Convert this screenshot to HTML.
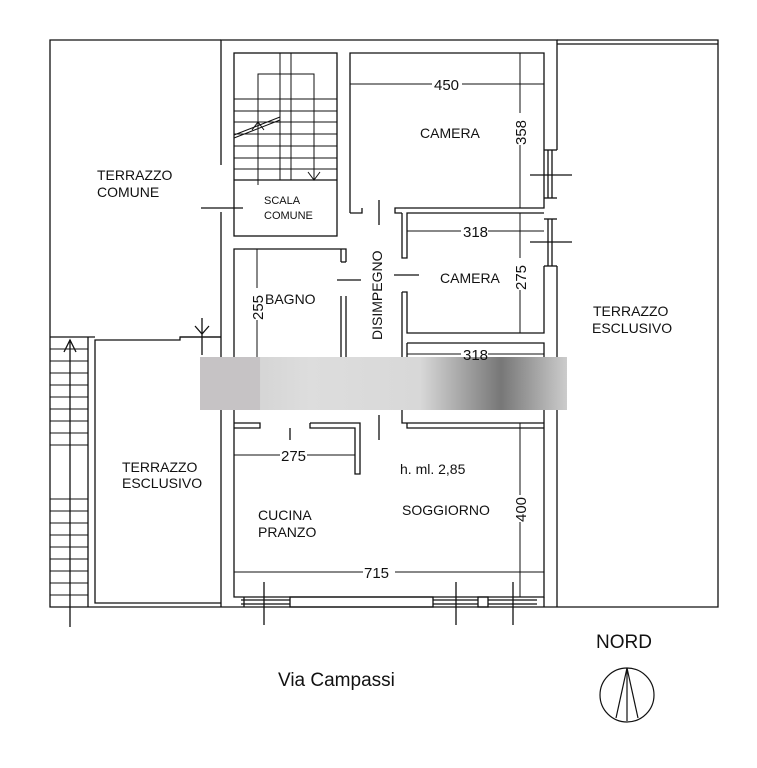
<!DOCTYPE html>
<html><head><meta charset="utf-8"><style>
html,body{margin:0;padding:0;background:#fff}
svg{display:block}
text{font-family:"Liberation Sans",sans-serif;fill:#111}
</style></head><body>
<svg width="757" height="768" viewBox="0 0 757 768" xmlns="http://www.w3.org/2000/svg">
<defs>
<linearGradient id="blur" x1="0" x2="1" y1="0" y2="0">
<stop offset="0" stop-color="#ccc"/><stop offset="0.3" stop-color="#ddd"/><stop offset="0.6" stop-color="#d8d8d8"/><stop offset="0.82" stop-color="#777"/><stop offset="1" stop-color="#ccc"/>
</linearGradient>
</defs>
<g fill="none" stroke="#111" stroke-width="1.3">
<!-- left terrace -->
<polyline points="221,40 50,40 50,607 221,607"/>
<!-- right terrace -->
<polyline points="557,40 718,40 718,607 557,607"/>
<line x1="557" y1="44" x2="718" y2="44"/>
<!-- building outer -->
<polyline points="221,165 221,40 557,40 557,150"/>
<line x1="557" y1="266" x2="557" y2="607"/>
<line x1="221" y1="212" x2="221" y2="607"/>
<line x1="221" y1="607" x2="557" y2="607"/>
<!-- stair box -->
<rect x="234" y="53" width="103" height="183"/>
<line x1="234" y1="180" x2="337" y2="180"/>
<g stroke-width="1">
<line x1="234" y1="99" x2="337" y2="99"/><line x1="234" y1="111" x2="337" y2="111"/>
<line x1="234" y1="122" x2="337" y2="122"/><line x1="234" y1="134" x2="337" y2="134"/>
<line x1="234" y1="146" x2="337" y2="146"/><line x1="234" y1="158" x2="337" y2="158"/>
<line x1="234" y1="169" x2="337" y2="169"/>
<rect x="280" y="53" width="11" height="127"/>
<polyline points="258,185 258,74 314,74 314,180"/>
<polyline points="308,172 314,180 320,172"/>
<polyline points="252,130 258,122 264,130"/>
<line x1="234" y1="135" x2="280" y2="117"/><line x1="234" y1="138" x2="280" y2="120"/>
</g>
<line x1="201" y1="208" x2="243" y2="208"/>
<!-- camera 1 -->
<polyline points="350,213 350,53 544,53 544,208 395,208 395,213 402,213"/>
<polyline points="350,213 362,213 362,208"/>
<line x1="544" y1="150" x2="557" y2="150"/><line x1="544" y1="198" x2="557" y2="198"/>
<line x1="548" y1="150" x2="548" y2="198"/><line x1="552" y1="150" x2="552" y2="198"/>
<line x1="544" y1="219" x2="557" y2="219"/><line x1="544" y1="266" x2="557" y2="266"/>
<line x1="548" y1="219" x2="548" y2="266"/><line x1="552" y1="219" x2="552" y2="266"/>
<line x1="530" y1="175" x2="572" y2="175"/><line x1="530" y1="242" x2="572" y2="242"/>
<!-- camera 2 -->
<polyline points="402,213 402,258 407,258 407,213 544,213"/>
<polyline points="402,292 407,292 407,333 544,333 544,266"/>
<line x1="402" y1="292" x2="402" y2="357"/>
<polyline points="407,343 544,343 544,357"/>
<polyline points="407,343 407,357"/>
<!-- bagno -->
<polyline points="346,262 346,249 234,249 234,357"/>
<line x1="341" y1="262" x2="346" y2="262"/><line x1="341" y1="249" x2="341" y2="262"/>
<line x1="346" y1="296" x2="346" y2="357"/><line x1="341" y1="296" x2="341" y2="357"/>
<!-- corridor marks -->
<line x1="379" y1="200" x2="379" y2="225"/>
<line x1="337" y1="280" x2="361" y2="280"/><line x1="394" y1="275" x2="419" y2="275"/>
<line x1="379" y1="415" x2="379" y2="440"/>
<!-- living -->
<polyline points="234,410 234,597 544,597 544,410"/>
<polyline points="234,423 260,423 260,428 234,428"/>
<polyline points="290,428 290,440"/>
<polyline points="310,423 360,423 360,474 355,474 355,428 310,428 310,423"/>
<polyline points="402,410 402,423 544,423"/>
<polyline points="407,423 407,428 544,428"/>
<!-- bottom windows -->
<line x1="244" y1="597" x2="244" y2="607"/><line x1="544" y1="597" x2="544" y2="607"/>
<line x1="241" y1="600" x2="290" y2="600"/><line x1="241" y1="604" x2="290" y2="604"/>
<rect x="290" y="597" width="143" height="10"/>
<line x1="433" y1="600" x2="478" y2="600"/><line x1="433" y1="604" x2="478" y2="604"/>
<rect x="478" y="597" width="10" height="10"/>
<line x1="488" y1="600" x2="537" y2="600"/><line x1="488" y1="604" x2="537" y2="604"/>
<line x1="264" y1="582" x2="264" y2="625"/><line x1="456" y1="582" x2="456" y2="625"/><line x1="513" y1="582" x2="513" y2="625"/>
<!-- left lower terrace -->
<polyline points="221,337 180,337 180,340 95,340 95,603 221,603"/>
<line x1="88" y1="337" x2="88" y2="607"/>
<line x1="50" y1="337" x2="95" y2="337"/>
<line x1="70" y1="340" x2="70" y2="627"/>
<polyline points="64,352 70,340 76,352"/>
<line x1="202" y1="318" x2="202" y2="355"/>
<polyline points="195,326 202,334 209,326"/>
<line x1="180" y1="337" x2="221" y2="337"/>
</g>
<g stroke="#111" stroke-width="1">
<line x1="50" y1="349" x2="88" y2="349"/><line x1="50" y1="361" x2="88" y2="361"/><line x1="50" y1="373" x2="88" y2="373"/>
<line x1="50" y1="385" x2="88" y2="385"/><line x1="50" y1="397" x2="88" y2="397"/><line x1="50" y1="409" x2="88" y2="409"/>
<line x1="50" y1="421" x2="88" y2="421"/><line x1="50" y1="433" x2="88" y2="433"/><line x1="50" y1="445" x2="88" y2="445"/>
<line x1="50" y1="499" x2="88" y2="499"/><line x1="50" y1="511" x2="88" y2="511"/><line x1="50" y1="523" x2="88" y2="523"/>
<line x1="50" y1="535" x2="88" y2="535"/><line x1="50" y1="547" x2="88" y2="547"/><line x1="50" y1="559" x2="88" y2="559"/>
<line x1="50" y1="571" x2="88" y2="571"/><line x1="50" y1="583" x2="88" y2="583"/><line x1="50" y1="595" x2="88" y2="595"/>
<!-- dimension lines -->
<line x1="350" y1="84" x2="432" y2="84"/><line x1="462" y1="84" x2="544" y2="84"/>
<line x1="520" y1="53" x2="520" y2="113"/><line x1="520" y1="145" x2="520" y2="208"/>
<line x1="407" y1="231" x2="461" y2="231"/><line x1="488" y1="231" x2="544" y2="231"/>
<line x1="520" y1="213" x2="520" y2="258"/><line x1="520" y1="290" x2="520" y2="333"/>
<line x1="257" y1="249" x2="257" y2="288"/><line x1="257" y1="320" x2="257" y2="357"/>
<line x1="407" y1="354" x2="461" y2="354"/><line x1="488" y1="354" x2="544" y2="354"/>
<line x1="234" y1="455" x2="280" y2="455"/><line x1="307" y1="455" x2="355" y2="455"/>
<line x1="520" y1="423" x2="520" y2="495"/><line x1="520" y1="522" x2="520" y2="597"/>
<line x1="234" y1="572" x2="363" y2="572"/><line x1="395" y1="572" x2="544" y2="572"/>
</g>
<rect x="200" y="357" width="367" height="53" fill="url(#blur)"/>
<rect x="200" y="357" width="60" height="53" fill="#c6c3c5"/>
<g font-size="14">
<text x="97" y="180">TERRAZZO</text><text x="97" y="197">COMUNE</text>
<text x="593" y="316">TERRAZZO</text><text x="592" y="333">ESCLUSIVO</text>
<text x="122" y="472">TERRAZZO</text><text x="122" y="488">ESCLUSIVO</text>
<text x="420" y="138">CAMERA</text>
<text x="440" y="283">CAMERA</text>
<text x="265" y="304">BAGNO</text>
<text x="400" y="474">h. ml. 2,85</text>
<text x="402" y="515">SOGGIORNO</text>
<text x="258" y="520">CUCINA</text><text x="258" y="537">PRANZO</text>
<text x="434" y="90" font-size="15">450</text>
<text x="463" y="237" font-size="15">318</text>
<text x="463" y="360" font-size="15">318</text>
<text x="281" y="461" font-size="15">275</text>
<text x="364" y="578" font-size="15">715</text>
<text transform="translate(526,145) rotate(-90)" font-size="15">358</text>
<text transform="translate(526,290) rotate(-90)" font-size="15">275</text>
<text transform="translate(263,320) rotate(-90)" font-size="15">255</text>
<text transform="translate(526,522) rotate(-90)" font-size="15">400</text>
<text transform="translate(382,340) rotate(-90)" font-size="14">DISIMPEGNO</text>
</g>
<text x="264" y="204" font-size="11">SCALA</text><text x="264" y="219" font-size="11">COMUNE</text>
<text x="596" y="648" font-size="19">NORD</text>
<text x="278" y="686" font-size="19">Via  Campassi</text>
<g fill="none" stroke="#111" stroke-width="1.2">
<circle cx="627" cy="695" r="27"/>
<line x1="627" y1="668" x2="627" y2="721"/>
<line x1="627" y1="668" x2="616" y2="718"/>
<line x1="627" y1="668" x2="638" y2="718"/>
</g>
</svg>
</body></html>
